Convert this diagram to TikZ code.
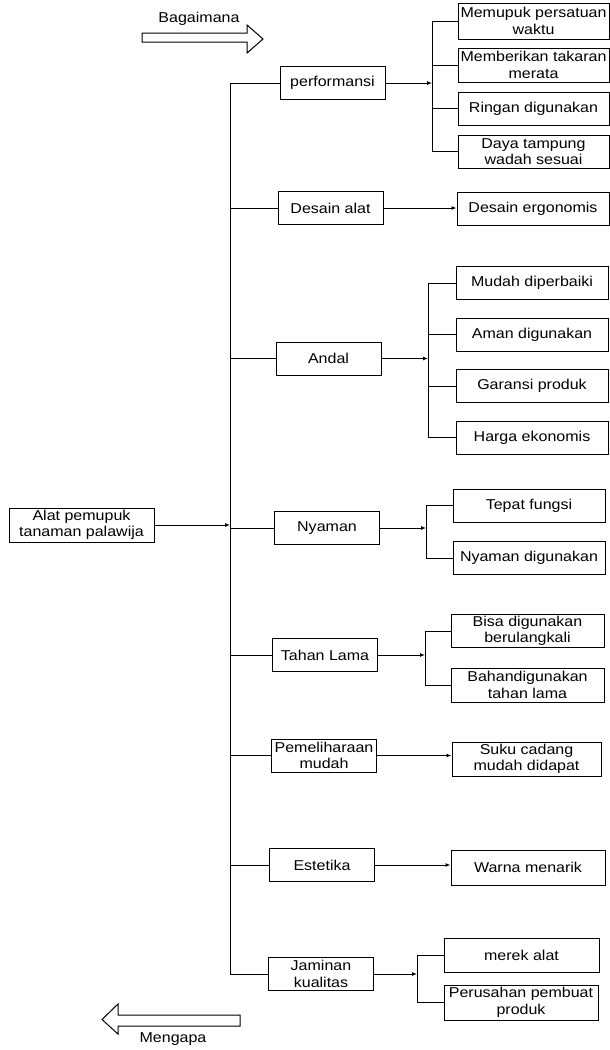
\documentclass[tikz,border=0pt]{standalone}
\usepackage{fontspec}
\setmainfont{Liberation Sans}[FakeStretch=1.12]
\usetikzlibrary{arrows.meta}
\begin{document}
\begin{tikzpicture}[x=1pt,y=-1pt,
  txt/.style={font=\fontsize{14.3}{16.5}\selectfont, align=center, inner sep=0pt},
  box/.style={txt, draw, line width=1pt},
  mid/.style={box, minimum width=105pt, minimum height=33pt},
  leaf/.style={box, minimum width=152pt, minimum height=33pt},
  ln/.style={line width=1pt},
  arr/.style={ln, -{Latex[length=5pt,width=4pt]}},
  blk/.style={line width=1pt, line join=miter}
]
\useasboundingbox (0,0) rectangle (610,1050);

% root
\node[box, minimum width=145pt, minimum height=34pt] (alat) at (81.5,525) {Alat pemupuk\\tanaman palawija};

% middle column
\node[mid] (perf) at (332.5,83) {performansi};
\node[mid] (desain) at (330.5,208) {Desain alat};
\node[mid] (andal) at (328.5,358.5) {Andal};
\node[mid] (nyaman) at (327,528) {Nyaman};
\node[mid] (tahan) at (325,655) {Tahan Lama};
\node[mid] (pemel) at (324,755.5) {Pemeliharaan\\mudah};
\node[mid] (estetika) at (322,865) {Estetika};
\node[mid] (jaminan) at (321,974) {Jaminan\\kualitas};

% leaves
\node[leaf, minimum width=151pt, minimum height=36pt] (p1) at (533.5,21) {Memupuk persatuan\\waktu};
\node[leaf, minimum width=151pt, minimum height=34pt] (p2) at (533.5,65) {Memberikan takaran\\merata};
\node[leaf, minimum width=151pt] (p3) at (533.5,108.5) {Ringan digunakan};
\node[leaf, minimum width=151pt] (p4) at (533.5,151.5) {Daya tampung\\wadah sesuai};

\node[leaf] (d1) at (533,209) {Desain ergonomis};

\node[leaf] (a1) at (532,283) {Mudah diperbaiki};
\node[leaf] (a2) at (532,334.5) {Aman digunakan};
\node[leaf] (a3) at (532,386) {Garansi produk};
\node[leaf] (a4) at (532,437.5) {Harga ekonomis};

\node[leaf] (n1) at (529,505.5) {Tepat fungsi};
\node[leaf] (n2) at (529,558) {Nyaman digunakan};

\node[leaf, minimum width=153pt] (t1) at (527.5,631) {Bisa digunakan\\berulangkali};
\node[leaf, minimum width=153pt, minimum height=34pt] (t2) at (527.5,685) {Bahandigunakan\\tahan lama};

\node[leaf, minimum width=149pt, minimum height=34pt] (s1) at (526.5,759) {Suku cadang\\mudah didapat};

\node[leaf, minimum width=154pt, minimum height=35pt] (w1) at (528,867.5) {Warna menarik};

\node[leaf, minimum width=155pt, minimum height=34pt] (j1) at (521.5,955) {merek alat};
\node[leaf, minimum width=154pt, minimum height=35pt] (j2) at (521,1002.5) {Perusahan pembuat\\produk};

% main spine
\coordinate (mx) at (230,0);
\draw[ln] (perf.west) -- (perf.west -| mx) -- (jaminan.west -| mx) -- (jaminan.west);
\foreach \n in {desain,andal,nyaman,tahan,pemel,estetika}
  \draw[ln] (\n.west) -- (\n.west -| mx);
\draw[arr] (alat.east) -- (alat.east -| mx);

% performansi bracket
\coordinate (bp) at (432,0);
\draw[arr] (perf.east) -- (perf.east -| bp);
\draw[ln] (p1.west) -- (p1.west -| bp) -- (p4.west -| bp) -- (p4.west);
\draw[ln] (p2.west) -- (p2.west -| bp);
\draw[ln] (p3.west) -- (p3.west -| bp);

% desain
\draw[arr] (desain.east) -- (desain.east -| d1.west);

% andal bracket
\coordinate (ba) at (428,0);
\draw[arr] (andal.east) -- (andal.east -| ba);
\draw[ln] (a1.west) -- (a1.west -| ba) -- (a4.west -| ba) -- (a4.west);
\draw[ln] (a2.west) -- (a2.west -| ba);
\draw[ln] (a3.west) -- (a3.west -| ba);

% nyaman bracket
\coordinate (bn) at (426,0);
\draw[arr] (nyaman.east) -- (nyaman.east -| bn);
\draw[ln] (n1.west) -- (n1.west -| bn) -- (n2.west -| bn) -- (n2.west);

% tahan lama bracket
\coordinate (bt) at (425,0);
\draw[arr] (tahan.east) -- (tahan.east -| bt);
\draw[ln] (t1.west) -- (t1.west -| bt) -- (t2.west -| bt) -- (t2.west);

% pemeliharaan, estetika
\draw[arr] (pemel.east) -- (pemel.east -| s1.west);
\draw[arr] (estetika.east) -- (estetika.east -| w1.west);

% jaminan bracket
\coordinate (bj) at (417,0);
\draw[arr] (jaminan.east) -- (jaminan.east -| bj);
\draw[ln] (j1.west) -- (j1.west -| bj) -- (j2.west -| bj) -- (j2.west);

% direction arrows
\draw[blk] (142,33) -- (247,33) -- (247,25) -- (263,39) -- (247,53) -- (247,42) -- (142,42) -- cycle;
\node[txt] (bag) at (199,19) {Bagaimana};
\draw[blk] (240,1015) -- (118,1015) -- (118,1004) -- (102,1019.5) -- (118,1034) -- (118,1026) -- (240,1026) -- cycle;
\node[txt] (meng) at (173,1039) {Mengapa};
\end{tikzpicture}
\end{document}
